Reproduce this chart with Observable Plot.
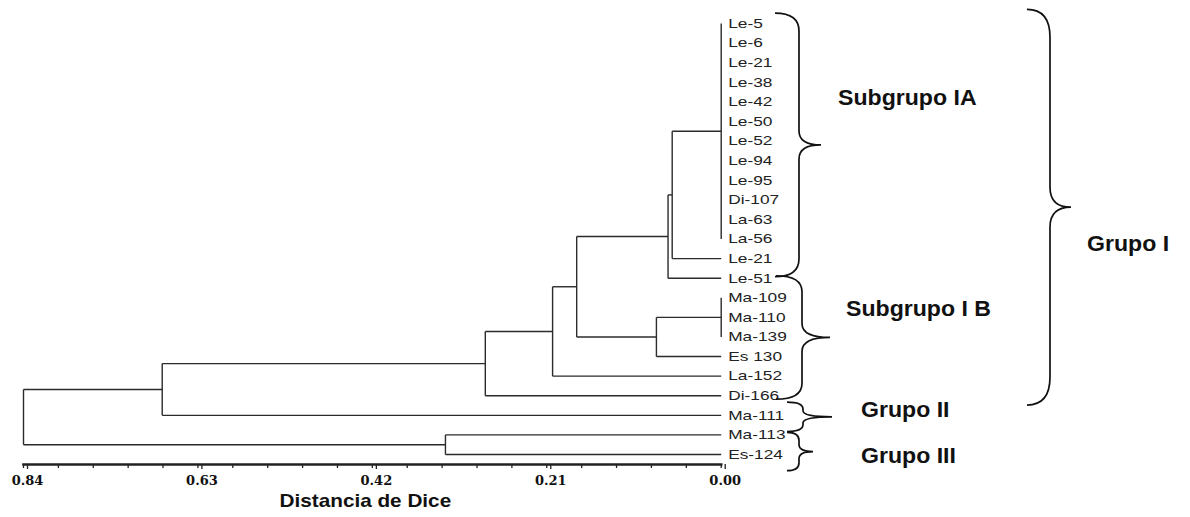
<!DOCTYPE html>
<html><head><meta charset="utf-8">
<script src="https://cdn.jsdelivr.net/npm/d3@7"></script>
<script src="https://cdn.jsdelivr.net/npm/@observablehq/plot@0.6"></script>
<style>
html,body{margin:0;padding:0;background:#fff;}
#chart svg{display:block;}
</style></head><body><div id="chart"></div>
<script>
// ---- data ----
const leafLabels = ["Le-5","Le-6","Le-21","Le-38","Le-42","Le-50","Le-52","Le-94","Le-95","Di-107","La-63","La-56","Le-21","Le-51","Ma-109","Ma-110","Ma-139","Es 130","La-152","Di-166","Ma-111","Ma-113","Es-124"];
const clusterIds = ["A","A1","A2","B","B1","C","D","E","F","G","root"];
const clusterChildren = [[0,1,2,3,4,5,6,7,8,9,10,11],["A",12],["A1",13],[14,15,16],["B",17],["A2","B1"],["C",18],["D",19],["E",20],[21,22],["F","G"]];
const clusterHeights = [0,0.059,0.064,0,0.078,0.174,0.203,0.284,0.673,0.332,0.84];
const majorTicks = [0.84,0.63,0.42,0.21,0.00];
const axisTitle = "Distancia de Dice";
const groupLabels = ["Subgrupo IA","Subgrupo I B","Grupo I","Grupo II","Grupo III"];
const groupFrom = [-0.5,12.9,-0.7,19.35,20.9];   // brace extent, in leaf index units
const groupTo = [12.95,19.2,19.5,20.85,22.85];

// ---- dendrogram layout (leaf index for y, distance for x) ----
const nodeY = new Map(), nodeH = new Map();
leafLabels.forEach((_, i) => { nodeY.set(i, i); nodeH.set(i, 0); });
const links = [];
clusterIds.forEach((id, k) => {
  const kids = clusterChildren[k], h = clusterHeights[k];
  const ys = kids.map(c => nodeY.get(c));
  const y0 = Math.min(...ys), y1 = Math.max(...ys);
  links.push({x1: h, x2: h, y1: y0, y2: y1});
  kids.forEach(c => {
    if (nodeH.get(c) !== h) links.push({x1: nodeH.get(c), x2: h, y1: nodeY.get(c), y2: nodeY.get(c)});
  });
  nodeY.set(id, (y0 + y1) / 2); nodeH.set(id, h);
});
const leaves = leafLabels.map((name, i) => ({name, i}));
const minorTicks = d3.range(0, 21).map(k => +(k * 0.042).toFixed(3));

const W = 1190, H = 517;
const sans = "Liberation Sans, Arial, sans-serif";
const plot = Plot.plot({
  width: W, height: H,
  marginLeft: 23, marginRight: W - 720.7, marginTop: 23, marginBottom: H - 464,
  x: {domain: [0.84, 0], label: null},
  y: {domain: [0, 22.51], reverse: true, axis: null, label: null},
  marks: [
    Plot.link(links, {x1: "x1", y1: "y1", x2: "x2", y2: "y2", stroke: "#2b2b2b", strokeWidth: 1.4}),
    Plot.text(leaves, {x: () => 0, y: "i", text: "name", textAnchor: "start", dx: 7,
      fontSize: 13.5, fontFamily: sans, fill: "#222"}),
    Plot.frame({anchor: "bottom", stroke: "#222", strokeWidth: 2.6}),
    Plot.axisX({ticks: minorTicks, tickSize: 4, tickFormat: () => "", label: null, stroke: "#222", strokeWidth: 1.3}),
    Plot.axisX({ticks: majorTicks, tickSize: 5, tickPadding: 6, tickFormat: d => d.toFixed(2), label: null,
      stroke: "#222", strokeWidth: 1.3, fill: "#111", fontFamily: "DejaVu Serif, serif", fontWeight: "bold", fontSize: 13, dx: 4}),
    Plot.text([axisTitle], {frameAnchor: "bottom", dy: 42, dx: -7, text: d => d, fontFamily: sans, fontWeight: "bold", fontSize: 18.5, fill: "#111"})
  ]
});
document.getElementById("chart").appendChild(plot);

// ---- annotations: braces and group labels ----
const yScale = plot.scale("y");
const Y = v => yScale.apply(v);
const svg = d3.select(plot);
const braceStyle = [
  {tip: 775, spine: 799, point: 821, r: 18, rm: 14},
  {tip: 776, spine: 802, point: 830, r: 16, rm: 14},
  {tip: 1027, spine: 1050, point: 1071, r: 28, rm: 20},
  {tip: 787, spine: 803, point: 832, r: 7, rm: 6},
  {tip: 787, spine: 799, point: 813, r: 8, rm: 7}
];
const labelPos = [
  {x: 838, y: 97.7}, {x: 846, y: 308}, {x: 1087, y: 243.3}, {x: 861, y: 409.3}, {x: 861, y: 455}
];
function bracePath(s, y0, y1) {
  const ym = (y0 + y1) / 2;
  return `M${s.tip},${y0} Q${s.spine},${y0} ${s.spine},${y0 + s.r} L${s.spine},${ym - s.rm} Q${s.spine},${ym} ${s.point},${ym}` +
         ` Q${s.spine},${ym} ${s.spine},${ym + s.rm} L${s.spine},${y1 - s.r} Q${s.spine},${y1} ${s.tip},${y1}`;
}
const ann = svg.append("g");
groupLabels.forEach((lab, k) => {
  ann.append("path").attr("d", bracePath(braceStyle[k], Y(groupFrom[k]), Y(groupTo[k])))
    .attr("fill", "none").attr("stroke", "#111").attr("stroke-width", 1.7);
  ann.append("text").attr("x", labelPos[k].x).attr("y", labelPos[k].y).attr("dy", "0.35em")
    .attr("text-anchor", "start")
    .attr("font-family", sans).attr("font-weight", "bold").attr("font-size", 22).attr("fill", "#111")
    .text(lab);
});

// ---- widen the texts to match the stretched original lettering ----
function stretch(el, f) {
  const w = el.getComputedTextLength();
  el.setAttribute("textLength", w * f);
  el.setAttribute("lengthAdjust", "spacingAndGlyphs");
}
const leafSet = new Set(leafLabels), groupSet = new Set(groupLabels);
plot.querySelectorAll("text").forEach(t => {
  const s = t.textContent;
  if (leafSet.has(s)) stretch(t, 1.28);
  else if (groupSet.has(s)) stretch(t, 1.05);
  else if (s === axisTitle) stretch(t, 1.12);
});
</script></body></html>
